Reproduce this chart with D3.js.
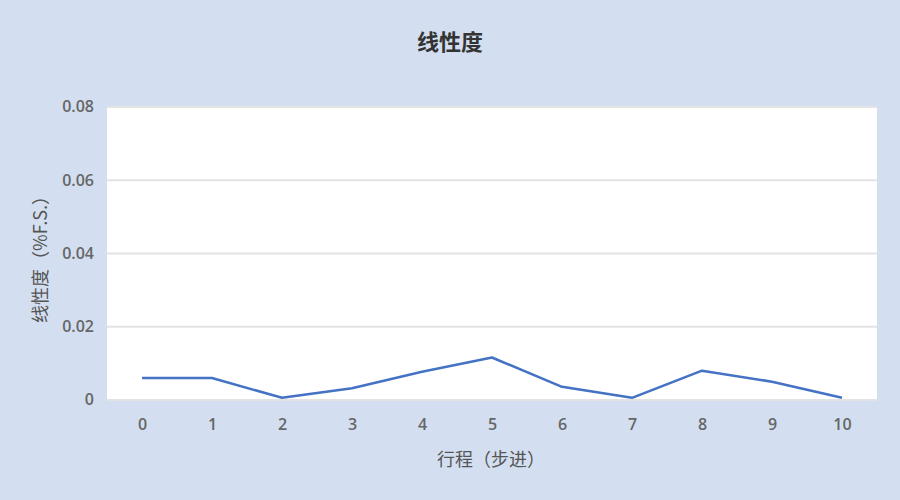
<!DOCTYPE html>
<html>
  <head>
    <meta charset='UTF-8'>
    <style>
    body {
      margin: 0;
    }
    svg {
      background: #d3dff0;
      font-family: 'Noto Sans CJK SC', 'Noto Sans', sans-serif;
    }
    .tick text {
      font-family: 'Open Sans', 'Noto Sans', sans-serif;
    }
    </style>
  </head>
  <body>
  <script src='https://cdnjs.cloudflare.com/ajax/libs/d3/7.8.5/d3.min.js'></script>
  <script>

    // stroke steps 0..10 and linearity readings (%F.S.)
    var steps = [0, 1, 2, 3, 4, 5, 6, 7, 8, 9, 10];
    var linearity = [0.0060, 0.0060, 0.0006, 0.0032, 0.0077, 0.0116, 0.0036, 0.0006, 0.0080, 0.0050, 0.0006];
    var yTicks = [0, 0.02, 0.04, 0.06, 0.08];

    var title = '线性度';
    var xTitle = '行程（步进）';
    var yTitle = '线性度（%F.S.）';

    var width = 900, height = 500;
    var margin = {top: 107, right: 23, bottom: 100, left: 107};

    var svg = d3.select('body')
      .append('svg')
      .attr('width', width)
      .attr('height', height);

    var x = d3.scalePoint()
      .domain(steps)
      .range([margin.left, width - margin.right])
      .padding(0.5);

    var y = d3.scaleLinear()
      .domain([0, 0.08])
      .range([height - margin.bottom, margin.top]);

    // plot area
    svg.append('rect')
      .attr('x', margin.left)
      .attr('y', margin.top)
      .attr('width', width - margin.left - margin.right)
      .attr('height', height - margin.top - margin.bottom)
      .attr('fill', '#fff');

    // grid lines
    svg.append('g')
      .selectAll('line')
      .data(yTicks)
      .join('line')
      .attr('x1', margin.left)
      .attr('x2', width - margin.right)
      .attr('y1', d => y(d))
      .attr('y2', d => y(d))
      .attr('stroke', '#e3e3e3')
      .attr('stroke-width', 2);

    // y axis labels
    var yAxis = svg.append('g')
      .attr('transform', 'translate(' + margin.left + ',0)')
      .call(d3.axisLeft(y).tickValues(yTicks).tickSize(0).tickPadding(13)
        .tickFormat(d => d === 0 ? '0' : d3.format('.2f')(d)));
    yAxis.select('.domain').remove();
    yAxis.selectAll('text')
      .attr('fill', '#666')
      .attr('font-size', 16)
      .attr('font-weight', 600)
      .attr('dy', '0.3em');

    // x axis labels
    var xAxis = svg.append('g')
      .attr('transform', 'translate(0,' + (height - margin.bottom) + ')')
      .call(d3.axisBottom(x).tickSize(0).tickPadding(19));
    xAxis.select('.domain').remove();
    xAxis.selectAll('text')
      .attr('fill', '#666')
      .attr('font-size', 16)
      .attr('font-weight', 600);

    // series line
    var line = d3.line()
      .x((d, i) => x(steps[i]))
      .y(d => y(d));

    svg.append('path')
      .datum(linearity)
      .attr('d', line)
      .attr('fill', 'none')
      .attr('stroke', '#4472c4')
      .attr('stroke-width', 2.5)
      .attr('stroke-linejoin', 'round');

    // titles
    svg.append('text')
      .attr('x', 450)
      .attr('y', 50)
      .attr('text-anchor', 'middle')
      .attr('font-size', 22)
      .attr('font-weight', 'bold')
      .attr('fill', '#333')
      .text(title);

    svg.append('text')
      .attr('x', 491)
      .attr('y', 466)
      .attr('text-anchor', 'middle')
      .attr('font-size', 18)
      .attr('fill', '#555')
      .text(xTitle);

    svg.append('text')
      .attr('transform', 'translate(47,255) rotate(-90)')
      .attr('text-anchor', 'middle')
      .attr('font-size', 18)
      .attr('fill', '#555')
      .text(yTitle);

  </script>
  </body>
</html>
